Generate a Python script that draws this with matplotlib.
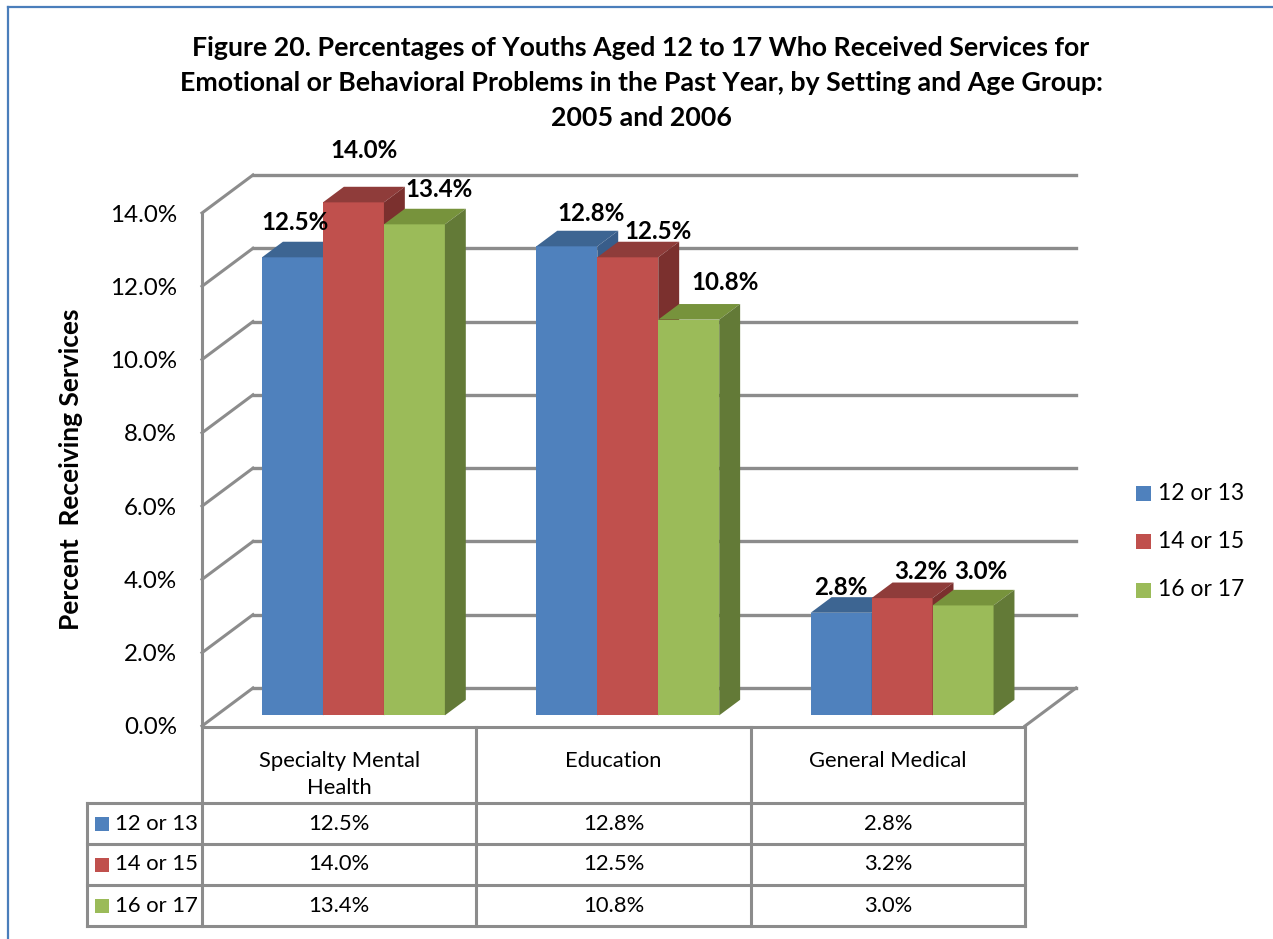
import matplotlib
matplotlib.use('Agg')
from matplotlib import pyplot as plt
from matplotlib.patches import Polygon, Rectangle
from matplotlib.lines import Line2D

categories = ['Specialty Mental\nHealth', 'Education', 'General Medical']
age_groups = ['12 or 13', '14 or 15', '16 or 17']
pct_12_13 = [12.5, 12.8, 2.8]
pct_14_15 = [14.0, 12.5, 3.2]
pct_16_17 = [13.4, 10.8, 3.0]
y_ticks = [0, 2, 4, 6, 8, 10, 12, 14]
title = ('Figure 20. Percentages of Youths Aged 12 to 17 Who Received Services for\n'
         'Emotional or Behavioral Problems in the Past Year, by Setting and Age Group:\n'
         '2005 and 2006')
y_label = 'Percent  Receiving Services'

series = [pct_12_13, pct_14_15, pct_16_17]
front_col = ['#4f81bd', '#c0504d', '#9bbb59']
top_col = ['#3d6592', '#8f3c3a', '#77933c']
side_col = ['#385d8a', '#7b302e', '#637a37']
grid_col = '#8c8c8c'

# label nudges in pixels (right, up), Excel shuffles some labels around
nudges = [[(-8, 19), (0, 36), (14, 19)],
          [(14, 17), (20, 10), (26, 22)],
          [(-11, 10), (8, 11), (7, 18)]]

plt.rcParams['font.family'] = ['Lato', 'DejaVu Sans']

W, H = 1273, 939
fig = plt.figure(figsize=(W / 100, H / 100), dpi=100)


def box(x0, y0, x1, y1):
    # pixel box (top-left origin) -> figure rect
    return [x0 / W, 1 - y1 / H, (x1 - x0) / W, (y1 - y0) / H]


# outer frame (only left and top visible)
fig.add_artist(Line2D([8 / W, 8 / W], [0, 1 - 7 / H], color='#4a7ebb', lw=1.6))
fig.add_artist(Line2D([8 / W, 1], [1 - 7 / H, 1 - 7 / H], color='#4a7ebb', lw=1.6))

ax = fig.add_axes(box(202, 213, 1025, 726))
ax.set_xlim(0, 3)
ax.set_ylim(0, 14)
for s in ['top', 'right', 'bottom']:
    ax.spines[s].set_visible(False)
ax.spines['left'].set_color(grid_col)
ax.spines['left'].set_linewidth(2.2)
ax.set_xticks([])
ax.set_yticks(y_ticks)
ax.set_yticklabels([f'{t:.1f}%' for t in y_ticks], fontsize=17.4)
ax.tick_params(axis='y', length=0, pad=18)
ax.patch.set_visible(False)

DX = 51 / 274.33
DY = 38 / 36.64
d0, d1 = 0.28, 0.69


def proj(x, y, d):
    return (x + d * DX, y + d * DY)


# back wall and left wall
for t in y_ticks:
    ax.plot([DX, 3 + DX], [t + DY, t + DY], color=grid_col, lw=2.4, clip_on=False, zorder=1)
    ax.plot([0, DX], [t, t + DY], color=grid_col, lw=2.2, clip_on=False, zorder=1)
ax.plot([3, 3 + DX], [0, DY], color=grid_col, lw=2.2, clip_on=False, zorder=1)

w = (2 / 3) / 3
z = 2
for i in range(len(categories)):
    for j, vals in enumerate(series):
        v = vals[i]
        x0 = i + 1 / 6 + j * w
        x1 = x0 + w
        faces = [
            ([proj(x0, 0, d0), proj(x1, 0, d0), proj(x1, v, d0), proj(x0, v, d0)], front_col[j]),
            ([proj(x0, v, d0), proj(x1, v, d0), proj(x1, v, d1), proj(x0, v, d1)], top_col[j]),
            ([proj(x1, 0, d0), proj(x1, 0, d1), proj(x1, v, d1), proj(x1, v, d0)], side_col[j]),
        ]
        for pts, c in faces:
            ax.add_patch(Polygon(pts, closed=True, fc=c, ec='none', clip_on=False, zorder=z))
        z += 1
        cx = proj(x0 + w / 2, v, (d0 + d1) / 2)[0]
        cy = proj(0, v, d1)[1]
        nx, ny = nudges[i][j]
        ax.annotate(f'{v:.1f}%', xy=(cx, cy), xytext=(nx, ny), textcoords='offset pixels',
                    ha='center', va='center', fontsize=17.4, fontweight='bold', zorder=50,
                    annotation_clip=False)

ax.set_ylabel(y_label, fontsize=19, fontweight='bold', labelpad=0)
ax.yaxis.set_label_coords((83 - 202) / 823, 0.5)

fig.text(641 / W, 1 - 83 / H, title, ha='center', va='center', fontsize=19.3,
         fontweight='bold', linespacing=1.55)

# data table
tab = fig.add_axes(box(87, 727, 1025, 926))
tab.set_xlim(-115 / 274.33, 3)
tab.set_ylim(199, 0)
tab.axis('off')
header_h, row_h = 76, 41
lx = -115 / 274.33
tab.plot([0, 3], [0, 0], color=grid_col, lw=2.2, clip_on=False)
for k in range(4):
    yy = header_h + k * row_h
    tab.plot([lx, 3], [yy, yy], color=grid_col, lw=2.2, clip_on=False)
for k in range(4):
    tab.plot([k, k], [0, 199], color=grid_col, lw=2.2, clip_on=False)
tab.plot([lx, lx], [header_h, 199], color=grid_col, lw=2.2, clip_on=False)

for i, cat in enumerate(categories):
    tab.text(i + 0.5, 24, cat, ha='center', va='top', fontsize=15.8, linespacing=1.45)
for j, (grp, vals) in enumerate(zip(age_groups, series)):
    ry = header_h + (j + 0.5) * row_h
    tab.add_patch(Rectangle((lx + 8 / 274.33, ry - 7), 14 / 274.33, 14, fc=front_col[j],
                            ec='none', clip_on=False))
    tab.text(lx + 28 / 274.33, ry, grp, ha='left', va='center', fontsize=15.8)
    for i in range(len(categories)):
        tab.text(i + 0.5, ry, f'{vals[i]:.1f}%', ha='center', va='center', fontsize=15.8)

# legend
for j, grp in enumerate(age_groups):
    ly = 493 + j * 48.5
    fig.patches.append(Rectangle((1136 / W, 1 - (ly + 7.5) / H), 15 / W, 15 / H,
                                 fc=front_col[j], ec='none', transform=fig.transFigure))
    fig.text(1158 / W, 1 - ly / H, grp, ha='left', va='center', fontsize=16.5)

fig.savefig('out.png', dpi=100)
